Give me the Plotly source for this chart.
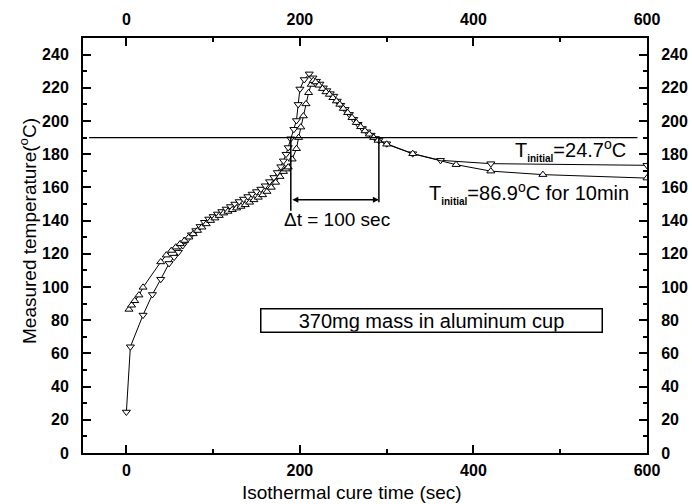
import plotly.graph_objects as go

# Series with T_initial = 24.7 C (inverted triangles)
t_24 = [0, 4.6, 19.2, 30, 39.6, 49.2, 55, 60, 65, 70, 75, 80, 85, 90, 95, 100, 105, 110, 115, 120,
        125, 130, 135, 140, 145, 150, 155, 160, 165, 170, 174, 178, 181, 184, 186.5, 189.3, 193, 196, 198, 200,
        205, 210.7, 215, 219, 223, 227, 231, 235, 239, 243, 247, 252, 257, 262, 267, 272, 277, 282, 287, 291,
        300, 330, 362, 420, 600]
T_24 = [24.7, 64, 83.1, 95.5, 104.7, 114.2, 118, 121, 125, 128.5, 131.5, 134, 136.5, 139, 141, 142.5, 144, 145.5, 147, 148.5,
        150, 151.5, 153, 154.5, 156, 157.5, 159, 161, 163.5, 166, 169, 172.5, 176, 180, 184, 189.3, 195, 200.3, 210, 219.3,
        225, 228.4, 226, 224, 222.3, 220, 218.3, 216.5, 215, 212, 209.5, 207, 204, 201, 198, 195.5, 193.5, 191.5, 189.5, 188.3,
        186.3, 180.3, 176.3, 174.3, 173.3]

# Series with T_initial = 86.9 C for 10 min (upright triangles)
t_87 = [3, 6, 9.6, 14.5, 19.2, 39.6, 46, 52, 57, 62, 67, 72, 77, 82, 87, 92, 97, 102, 107, 112,
        117, 122, 127, 132, 137, 142, 147, 152, 157, 162, 167, 172, 177, 181, 184, 186.5, 191, 196, 198.5, 201,
        204, 207, 210, 213, 215.4, 218, 222, 226, 230, 234, 238, 242, 246, 250, 255, 260, 265, 270, 275, 280,
        285, 290, 300, 330, 380, 420, 480, 600]
T_87 = [86.5, 89, 91.7, 95.1, 99.8, 115.1, 119.2, 122, 124, 126, 128, 130, 132, 134, 136, 138, 140, 141.5, 143, 144.5,
        145.5, 146.5, 147.5, 148.5, 149.5, 151, 152.5, 154, 155.5, 157.5, 160, 163, 166.5, 169.5, 171, 172.2, 177, 183.3, 190, 196.3,
        203, 210.3, 217, 222, 224.3, 223.5, 221.5, 219.5, 217.5, 216, 214, 212, 210, 207.5, 205, 202, 199, 196.5, 194, 192,
        190, 188.3, 186, 180.3, 173.7, 169.8, 167.7, 165.6]

threshold_T = 190
threshold_t = [-43, 589]
dt_start, dt_end = 189.5, 291
dt_arrow_T = 152.5

x_ticks = [0, 200, 400, 600]
y_ticks = list(range(0, 241, 20))

FONT = "Arial, Liberation Sans, sans-serif"

fig = go.Figure()
fig.add_trace(go.Scatter(x=t_24, y=T_24, mode="lines+markers",
                         line=dict(color="black", width=1),
                         marker=dict(symbol="triangle-down", size=7, color="white",
                                     line=dict(color="black", width=1)),
                         showlegend=False))
fig.add_trace(go.Scatter(x=t_87, y=T_87, mode="lines+markers",
                         line=dict(color="black", width=1),
                         marker=dict(symbol="triangle-up", size=7, color="white",
                                     line=dict(color="black", width=1)),
                         showlegend=False))

# 190 C reference line and delta-t markers (drawn on the mirrored top/right axes, same scale)
fig.add_trace(go.Scatter(x=threshold_t, y=[threshold_T, threshold_T], mode="lines",
                         line=dict(color="black", width=1.2), showlegend=False,
                         xaxis="x2", yaxis="y2"))
fig.add_trace(go.Scatter(x=[dt_start, dt_start], y=[threshold_T, 146], mode="lines",
                         line=dict(color="black", width=1.5), showlegend=False,
                         xaxis="x2", yaxis="y2"))
fig.add_trace(go.Scatter(x=[dt_end, dt_end], y=[threshold_T, 151], mode="lines",
                         line=dict(color="black", width=1.5), showlegend=False,
                         xaxis="x2", yaxis="y2"))

tickfont = dict(family=FONT, size=16, color="black", weight="bold")
common_x = dict(range=[-50, 600], tickvals=x_ticks, ticktext=[str(v) for v in x_ticks],
                ticks="inside", ticklen=8, tickwidth=1.5, tickcolor="black",
                minor=dict(dtick=100, tick0=0, ticks="inside", ticklen=4, tickwidth=1.5, tickcolor="black"),
                showline=True, linecolor="black", linewidth=2, showgrid=False, zeroline=False,
                tickfont=tickfont)
common_y = dict(range=[0, 250], tickvals=y_ticks, ticktext=[str(v) for v in y_ticks],
                ticks="inside", ticklen=8, tickwidth=1.5, tickcolor="black",
                minor=dict(dtick=10, tick0=0, ticks="inside", ticklen=4, tickwidth=1.5, tickcolor="black"),
                showline=True, linecolor="black", linewidth=2, showgrid=False, zeroline=False,
                tickfont=tickfont, ticklabelstandoff=9)

fig.update_layout(
    width=692, height=504,
    margin=dict(l=83, r=45, t=38, b=51, autoexpand=False),
    paper_bgcolor="white", plot_bgcolor="white",
    font=dict(family=FONT, color="black"),
    xaxis=dict(**common_x, side="bottom", anchor="y", ticklabelstandoff=2),
    xaxis2=dict(**common_x, side="top", overlaying="x", anchor="y2", ticklabelstandoff=5),
    yaxis=dict(**common_y, side="left", anchor="x"),
    yaxis2=dict(**common_y, side="right", overlaying="y", anchor="x2"),
)

annotations = [
    # axis titles
    dict(text="Isothermal cure time (sec)", xref="paper", yref="paper", x=(352 - 83) / 564, y=-(492 - 453) / 415,
         showarrow=False, font=dict(size=19, family=FONT), xanchor="center", yanchor="middle"),
    dict(text="Measured temperature(<sup>o</sup>C)", xref="paper", yref="paper", x=-(83 - 28) / 564,
         y=(453 - 231) / 415, textangle=-90,
         showarrow=False, font=dict(size=19, family=FONT), xanchor="center", yanchor="middle"),
    # delta t arrow
    dict(x=dt_end, y=dt_arrow_T, ax=dt_start, ay=dt_arrow_T, xref="x", yref="y", axref="x", ayref="y",
         text="", showarrow=True, arrowhead=2, startarrowhead=2, arrowside="end+start",
         arrowsize=0.8, arrowwidth=1.5, arrowcolor="black"),
    dict(text="\u0394t = 100 sec", x=(337 - 126.7) / 0.8665, y=(453.3 - 219) / 1.664, xref="x", yref="y",
         showarrow=False, font=dict(size=19, family=FONT), xanchor="center", yanchor="middle"),
    dict(text='T<sub><span style="font-size:10px"><b>initial</b></span></sub>=24.7<sup>o</sup>C',
         x=(513 - 126.7) / 0.8665, y=(453.3 - 150) / 1.664, xref="x", yref="y",
         showarrow=False, font=dict(size=20, family=FONT), xanchor="left", yanchor="middle"),
    dict(text='T<sub><span style="font-size:10px"><b>initial</b></span></sub>=86.9<sup>o</sup>C for 10min',
         x=(427 - 126.7) / 0.8665, y=(453.3 - 193) / 1.664, xref="x", yref="y",
         showarrow=False, font=dict(size=20, family=FONT), xanchor="left", yanchor="middle"),
    dict(text="370mg mass in aluminum cup", x=(431.5 - 126.7) / 0.8665, y=(453.3 - 320.7) / 1.664,
         xref="x", yref="y", showarrow=False, font=dict(size=20, family=FONT),
         xanchor="center", yanchor="middle", bordercolor="black", borderwidth=1.5, borderpad=0,
         width=340, height=22),
]
fig.update_layout(annotations=annotations)

fig.write_html("out.html", post_script="document.body.style.margin='0';",
               config={"displayModeBar": False})
